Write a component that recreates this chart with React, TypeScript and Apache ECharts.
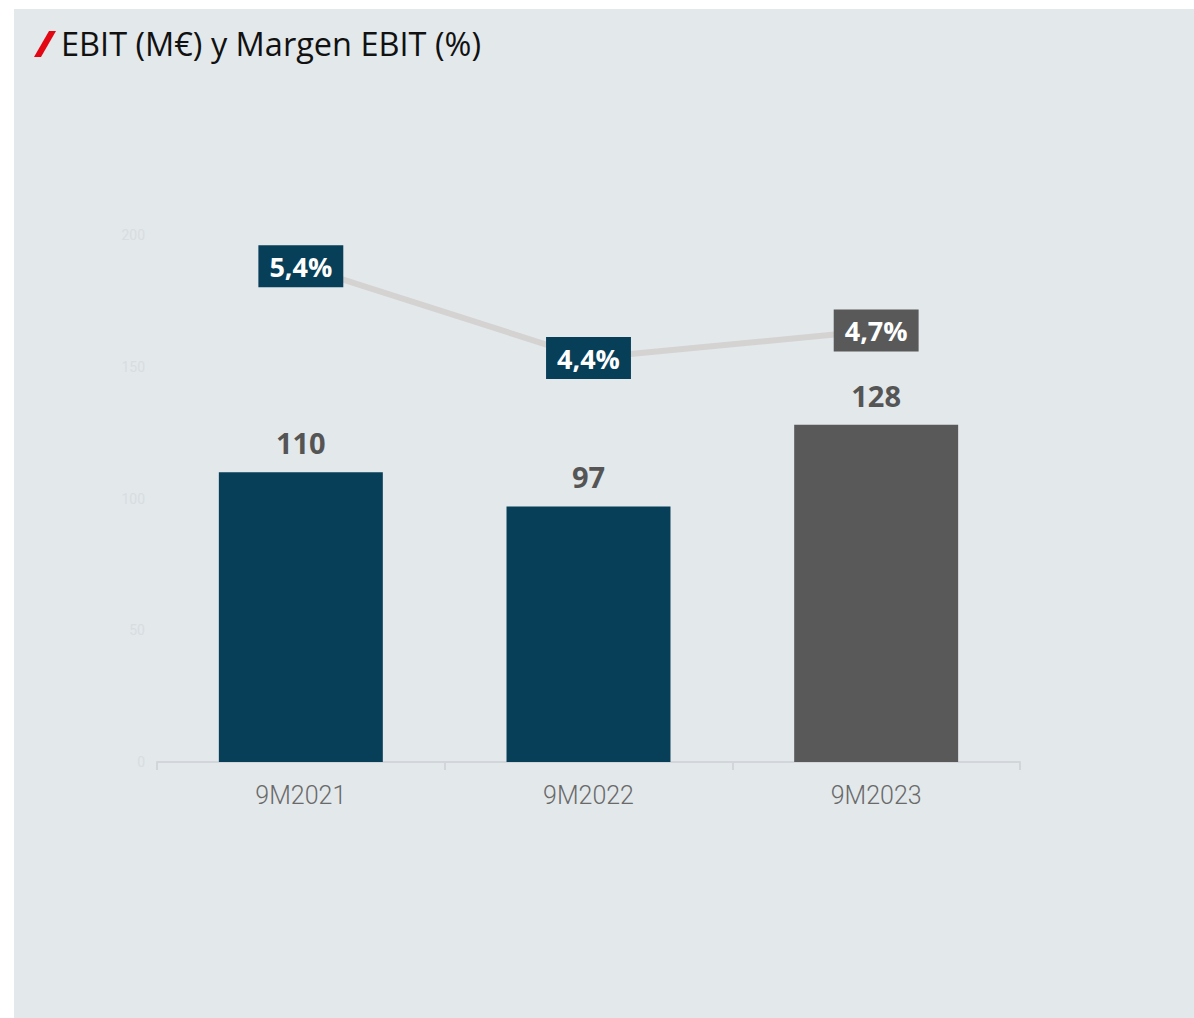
import React, { useEffect, useRef } from "react";
import * as echarts from "echarts";

const categories = ["9M2021", "9M2022", "9M2023"];
const ebitValues = [110, 97, 128];
const marginValues = [5.4, 4.4, 4.7];
const barColors = ["#073f59", "#073f59", "#595959"];
const marginLabelColors = ["#073f59", "#073f59", "#595959"];
const title = "EBIT (M€) y Margen EBIT (%)";

export default function App() {
  const ref = useRef<HTMLDivElement>(null);
  useEffect(() => {
    if (!ref.current) return;
    const chart = echarts.init(ref.current, null, { renderer: "svg" });
    chart.setOption({
      animation: false,
      backgroundColor: "#ffffff",
      graphic: [
        {
          type: "rect",
          z: -10,
          shape: { x: 14, y: 9, width: 1180, height: 1009 },
          style: { fill: "#e3e8eb" },
        },
        {
          type: "polygon",
          shape: { points: [[34, 57], [41, 57], [56, 31], [49, 31]] },
          style: { fill: "#e30613" },
        },
        {
          type: "text",
          x: 61,
          y: 43,
          style: {
            text: title,
            fill: "#111111",
            font: "32.5px 'Open Sans'",
            textVerticalAlign: "middle",
          },
        },
      ],
      grid: { left: 157, right: 174, top: 235, bottom: 256, containLabel: false },
      xAxis: {
        type: "category",
        data: categories,
        axisLine: { show: true, lineStyle: { color: "#d2d6da", width: 2 } },
        axisTick: { show: true, length: 8, lineStyle: { color: "#d2d6da", width: 2 } },
        axisLabel: {
          color: "#6a6a6a",
          fontFamily: "Roboto",
          fontWeight: 300,
          fontSize: 25,
          margin: 21,
        },
      },
      yAxis: [
        {
          type: "value",
          min: 0,
          max: 200,
          interval: 50,
          splitLine: { show: false },
          axisLine: { show: false },
          axisTick: { show: false },
          axisLabel: { color: "#d8dde1", fontSize: 14, fontFamily: "Roboto", margin: 12 },
        },
        {
          type: "value",
          min: 0,
          max: 5.74,
          show: false,
          splitLine: { show: false },
        },
      ],
      series: [
        {
          type: "bar",
          data: ebitValues.map((v, i) => ({ value: v, itemStyle: { color: barColors[i] } })),
          barWidth: "57%",
          label: {
            show: true,
            position: "top",
            distance: 15,
            color: "#555555",
            fontFamily: "Open Sans",
            fontWeight: "bold",
            fontSize: 29,
          },
        },
        {
          type: "line",
          yAxisIndex: 1,
          data: marginValues.map((v, i) => ({
            value: v,
            label: { backgroundColor: marginLabelColors[i] },
          })),
          symbol: "circle",
          symbolSize: 1,
          showSymbol: true,
          itemStyle: { color: "#d5d2d2" },
          lineStyle: { color: "#d5d2d2", width: 6 },
          z: 5,
          label: {
            show: true,
            position: "inside",
            color: "#ffffff",
            fontFamily: "Open Sans",
            fontWeight: "bold",
            fontSize: 27,
            lineHeight: 32,
            padding: [5, 11],
            formatter: (p: any) => p.value.toFixed(1).replace(".", ",") + "%",
          },
        },
      ],
    });
    return () => chart.dispose();
  }, []);
  return (
    <div
      ref={ref}
      style={{ position: "absolute", left: 0, top: 0, width: 1194, height: 1018 }}
    />
  );
}
